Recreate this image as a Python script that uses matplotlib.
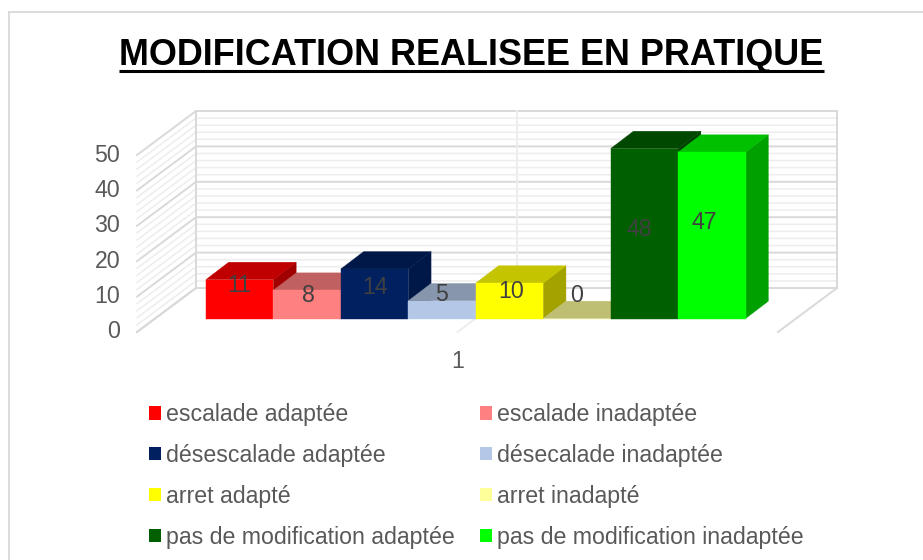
import matplotlib
matplotlib.use("Agg")
import matplotlib.pyplot as plt
from matplotlib.patches import Polygon, Rectangle

plt.rcParams['font.family'] = ['Liberation Sans', 'DejaVu Sans']

# data
labels = ["escalade adaptée", "escalade inadaptée", "désescalade adaptée", "désecalade inadaptée",
          "arret adapté", "arret inadapté", "pas de modification adaptée", "pas de modification inadaptée"]
values = [11, 8, 14, 5, 10, 0, 48, 47]
y_ticks = [0, 10, 20, 30, 40, 50]
x_label = "1"
title = "MODIFICATION REALISEE EN PRATIQUE"

front = ["#ff0000", "#ff8080", "#002060", "#b4c7e7", "#ffff00", "#ffff99", "#006000", "#00ff00"]
top = ["#c00000", "#c06060", "#001848", "#8796ad", "#c4c400", "#bfbf73", "#004800", "#00c000"]
side = ["#a00000", "#a05050", "#001848", "#707d90", "#a3a300", "#a0a060", "#004000", "#00a000"]

# data label offset from bar centre (pixels), as placed in the original
label_dx = [0, 1, 0, -1, 2, 0, -5, -8]
label_y = [286, 295, 287, 294, 291, 295, 229, 222]

# layout in pixels
W, H = 923, 560
x0, bar_w = 206.0, 67.45   # left edge of the first bar, width of one bar
y0, unit = 318.5, 3.54     # baseline of the bars, pixels for one unit
bar_dx, bar_dy = 22.7, 17.3  # depth of the bars
wall_x0, wall_x1, wall_y0 = 196.0, 837.0, 288.0  # back wall
depth_dx, depth_dy = 59.0, 44.0  # depth of the floor
font = 16.7

fig = plt.figure(figsize=(W / 100, H / 100), dpi=100)
ax = fig.add_axes([0, 0, 1, 1])
ax.set_xlim(-x0 / bar_w, (W - x0) / bar_w)
ax.set_ylim((y0 - H) / unit, y0 / unit)
ax.axis("off")


def dx(px):
    return px / bar_w


def dy(px):
    return px / unit


def px_x(p):
    return (p - x0) / bar_w


def px_y(p):
    return (y0 - p) / unit


# frame of the chart
ax.plot([px_x(9), px_x(9)], [px_y(H), px_y(12)], color="#d9d9d9", lw=1.3, zorder=0)
ax.plot([px_x(9), px_x(W)], [px_y(12), px_y(12)], color="#d9d9d9", lw=1.3, zorder=0)

# walls
bx0, bx1 = px_x(wall_x0), px_x(wall_x1)
by0 = px_y(wall_y0)
ddx, ddy = dx(depth_dx), dy(depth_dy)
for v in range(0, 51, 2):
    major = v % 10 == 0
    col = "#d9d9d9" if major else "#ededed"
    lw = 1.4 if major else 1.1
    z = 2 if major else 1
    ax.plot([bx0 - ddx, bx0, bx1], [by0 + v - ddy, by0 + v, by0 + v], color=col, lw=lw, zorder=z)
ax.plot([bx0, bx0], [by0, by0 + 50], color="#d9d9d9", lw=1.4, zorder=2)
ax.plot([bx1, bx1], [by0, by0 + 50], color="#d9d9d9", lw=1.4, zorder=2)
bmid = (bx0 + bx1) / 2
ax.plot([bmid, bmid], [by0, by0 + 50], color="#ededed", lw=1.4, zorder=2)
for xb, c in [(bx0, "#d9d9d9"), (bmid, "#ededed"), (bx1, "#d9d9d9")]:
    ax.plot([xb, xb - ddx], [by0, by0 - ddy], color=c, lw=1.4, zorder=2)

# bars, from left to right so that each one covers the side of the previous one
ox, oy = dx(bar_dx), dy(bar_dy)
for i, v in enumerate(values):
    z = 3 + i
    ax.add_patch(Polygon([(i + 1, 0), (i + 1 + ox, oy), (i + 1 + ox, v + oy), (i + 1, v)],
                         facecolor=side[i], edgecolor=side[i], lw=0.3, zorder=z))
    ax.add_patch(Polygon([(i, v), (i + ox, v + oy), (i + 1 + ox, v + oy), (i + 1, v)],
                         facecolor=top[i], edgecolor=top[i], lw=0.3, zorder=z))
    ax.add_patch(Rectangle((i, 0), 1, v, facecolor=front[i], edgecolor=front[i], lw=0.3, zorder=z))

# data labels
for i, v in enumerate(values):
    ax.text(i + 0.5 + dx(label_dx[i]), px_y(label_y[i]), str(v), ha="center", va="center",
            fontsize=font, color="#404040", zorder=20)

# axis labels
for v in y_ticks:
    ax.text(px_x(120), by0 - ddy + v, str(v), ha="right", va="center",
            fontsize=font, color="#595959", zorder=20)
ax.text(bmid - ddx, px_y(362), x_label, ha="center", va="center", fontsize=font, color="#595959")

# title with its underline
t = ax.text(px_x(471.5), px_y(65), title, ha="center", va="baseline", fontsize=25.9,
            fontweight="bold", color="black", zorder=20)
fig.canvas.draw()
bb = t.get_window_extent()
ax.plot([px_x(bb.x0), px_x(bb.x1)], [px_y(70.5), px_y(70.5)], color="black", lw=2.2,
        solid_capstyle="butt", zorder=20)

# legend, filled by column in matplotlib
handles = [Rectangle((0, 0), 1, 1, facecolor=c, edgecolor="none") for c in front]
order = [0, 2, 4, 6, 1, 3, 5, 7]
leg = ax.legend([handles[i] for i in order], [labels[i] for i in order], ncol=2, frameon=False,
                loc="upper left", bbox_to_anchor=(149 / W, 1 - 403 / H),
                bbox_transform=fig.transFigure, fontsize=font, labelcolor="#595959",
                handlelength=0.52, handleheight=0.52, handletextpad=0.22,
                columnspacing=1.08, labelspacing=0.77, borderpad=0, borderaxespad=0)

fig.savefig("out.png", dpi=100)
